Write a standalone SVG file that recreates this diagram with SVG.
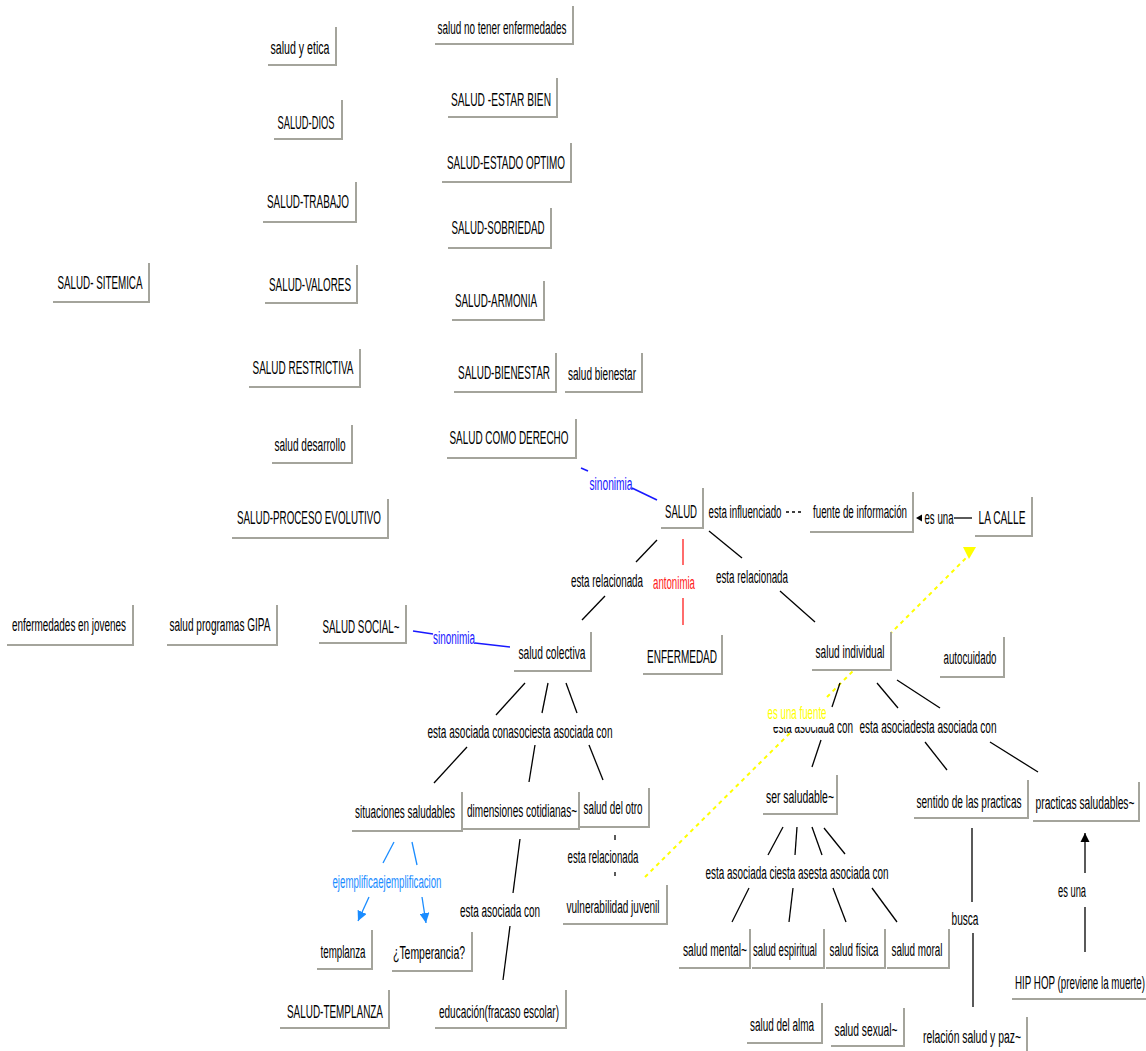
<svg xmlns="http://www.w3.org/2000/svg" width="1146" height="1051" viewBox="0 0 1146 1051">
<defs>
<style>
text{font-family:"Liberation Sans",Arial,sans-serif;font-size:18px;text-anchor:middle;fill:#000}
.node rect{fill:#fff}
.sh{fill:none;stroke:#a4a49c;stroke-width:2}
.ln{fill:none;stroke:#000;stroke-width:1.3}
.bl{fill:none;stroke:#1818ff;stroke-width:1.6}
.rd{fill:none;stroke:#ff4848;stroke-width:1.6}
.db{fill:none;stroke:#1a8cff;stroke-width:1.3}
.yl{fill:none;stroke:#ffff00;stroke-width:2;stroke-dasharray:4 4}
.tbl{fill:#1818ff}
.trd{fill:#ff2020}
.tdb{fill:#1a8cff}
.tyl{fill:#ffff00}
</style>
<marker id="mBlk" viewBox="0 0 10 10" refX="10" refY="5" markerWidth="9" markerHeight="13" markerUnits="userSpaceOnUse" orient="auto"><path d="M0,0 L10,5 L0,10 z" fill="#000"/></marker>
<marker id="mDb" viewBox="0 0 10 10" refX="10" refY="5" markerWidth="10" markerHeight="10" markerUnits="userSpaceOnUse" orient="auto"><path d="M0,0 L10,5 L0,10 z" fill="#1a8cff"/></marker>
</defs>
<rect width="1146" height="1051" fill="#fff"/>

<g id="connectors">
<path class="bl" d="M581,468 L588,471"/>
<path class="bl" d="M632,488 L657,500"/>
<path class="ln" d="M657,540 L636,562"/>
<path class="ln" d="M605,596 L582,620"/>
<path class="rd" d="M683,539 V565"/>
<path class="rd" d="M683,598 V625"/>
<path class="ln" d="M709,531 L742,558"/>
<path class="ln" d="M780,591 L815,622"/>
<path class="ln" d="M786,512 H804" stroke-dasharray="3 3"/>
<path class="ln" d="M954,518 H972" stroke-width="2"/>
<polygon points="916,518 922,514.5 922,521.5" fill="#000"/>
<path class="bl" d="M413,631 L433,634"/>
<path class="bl" d="M475,643 L510,647"/>
<path class="ln" d="M525,683 L496,715"/>
<path class="ln" d="M548,683 L542,713"/>
<path class="ln" d="M566,683 L577,713"/>
<path class="ln" d="M467,747 L434,783"/>
<path class="ln" d="M535,745 L529,782"/>
<path class="ln" d="M589,745 L603,780"/>
<path class="ln" d="M520,839 L513,893"/>
<path class="ln" d="M510,926 L503,980"/>
<path class="ln" d="M615,835 V840"/>
<path class="ln" d="M615,872 V876"/>
<path class="db" d="M394,842 L383,863"/>
<path class="db" d="M412,842 L417,865"/>
<path class="db" d="M369,897 L358,921" marker-end="url(#mDb)"/>
<path class="db" d="M422,897 L426,923" marker-end="url(#mDb)"/>
<path class="yl" d="M645,877 L790,733"/>
<path class="yl" d="M827,697 L966,558"/>
<polygon points="963,547 976,547 969,559" fill="#ffff00"/>
<path class="ln" d="M840,683 L832,707"/>
<path class="ln" d="M877,683 L898,708"/>
<path class="ln" d="M897,680 L940,708"/>
<path class="ln" d="M821,740 L812,767"/>
<path class="ln" d="M925,742 L947,770"/>
<path class="ln" d="M990,742 L1038,772"/>
<path class="ln" d="M783,827 L768,855"/>
<path class="ln" d="M797,827 L795,855"/>
<path class="ln" d="M812,827 L822,855"/>
<path class="ln" d="M824,828 L845,854"/>
<path class="ln" d="M749,888 L732,922"/>
<path class="ln" d="M793,888 L789,922"/>
<path class="ln" d="M833,888 L846,922"/>
<path class="ln" d="M872,888 L897,922"/>
<path class="ln" d="M972,828 V902"/>
<path class="ln" d="M973,933 V1007"/>
<path class="ln" d="M1085,952 V907"/>
<path class="ln" d="M1085,873 V833" marker-end="url(#mBlk)"/>
</g>

<g id="labels">
<text class="tbl" x="611" y="490" textLength="43" lengthAdjust="spacingAndGlyphs">sinonimia</text>
<text x="745" y="518" textLength="73" lengthAdjust="spacingAndGlyphs">esta influenciado</text>
<text x="939" y="524" textLength="29" lengthAdjust="spacingAndGlyphs">es una</text>
<text x="607" y="587" textLength="72" lengthAdjust="spacingAndGlyphs">esta relacionada</text>
<text class="trd" x="674" y="589" textLength="42" lengthAdjust="spacingAndGlyphs">antonimia</text>
<text x="752" y="583" textLength="72" lengthAdjust="spacingAndGlyphs">esta relacionada</text>
<text class="tbl" x="454" y="644" textLength="42" lengthAdjust="spacingAndGlyphs">sinonimia</text>
<text x="520" y="738" textLength="185" lengthAdjust="spacingAndGlyphs">esta asociada conasociesta asociada con</text>
<text x="813" y="733" textLength="80" lengthAdjust="spacingAndGlyphs">esta asociada con</text>
<rect x="766" y="702" width="63" height="25" fill="#fff"/>
<text class="tyl" x="797" y="719" textLength="59" lengthAdjust="spacingAndGlyphs">es una fuente</text>
<text x="928" y="733" textLength="137" lengthAdjust="spacingAndGlyphs">esta asociadesta asociada con</text>
<text class="tdb" x="387" y="888" textLength="109" lengthAdjust="spacingAndGlyphs">ejemplificaejemplificacion</text>
<text x="500" y="917" textLength="80" lengthAdjust="spacingAndGlyphs">esta asociada con</text>
<text x="603" y="863" textLength="71" lengthAdjust="spacingAndGlyphs">esta relacionada</text>
<text x="797" y="879" textLength="183" lengthAdjust="spacingAndGlyphs">esta asociada ciesta asesta asociada con</text>
<text x="965" y="925" textLength="27" lengthAdjust="spacingAndGlyphs">busca</text>
<text x="1072" y="897" textLength="28" lengthAdjust="spacingAndGlyphs">es una</text>
</g>

<g id="n_no_enf" class="node"><rect x="435" y="6" width="138" height="38"/><path class="sh" d="M573,6 V44 H435"/><text x="502" y="34" textLength="129" lengthAdjust="spacingAndGlyphs">salud no tener enfermedades</text></g>
<g id="n_etica" class="node"><rect x="268" y="27" width="68" height="38"/><path class="sh" d="M336,27 V65 H268"/><text x="300" y="54" textLength="59" lengthAdjust="spacingAndGlyphs">salud y etica</text></g>
<g id="n_estar" class="node"><rect x="448" y="78" width="109" height="39"/><path class="sh" d="M557,78 V117 H448"/><text x="501" y="106" textLength="100" lengthAdjust="spacingAndGlyphs">SALUD -ESTAR BIEN</text></g>
<g id="n_dios" class="node"><rect x="274" y="100" width="68" height="39"/><path class="sh" d="M342,100 V139 H274"/><text x="306" y="129" textLength="57" lengthAdjust="spacingAndGlyphs">SALUD-DIOS</text></g>
<g id="n_optimo" class="node"><rect x="442" y="143" width="129" height="39"/><path class="sh" d="M571,143 V182 H442"/><text x="506" y="169" textLength="118" lengthAdjust="spacingAndGlyphs">SALUD-ESTADO OPTIMO</text></g>
<g id="n_trabajo" class="node"><rect x="263" y="182" width="93" height="40"/><path class="sh" d="M356,182 V222 H263"/><text x="308" y="208" textLength="82" lengthAdjust="spacingAndGlyphs">SALUD-TRABAJO</text></g>
<g id="n_sobriedad" class="node"><rect x="448" y="208" width="103" height="40"/><path class="sh" d="M551,208 V248 H448"/><text x="498" y="234" textLength="93" lengthAdjust="spacingAndGlyphs">SALUD-SOBRIEDAD</text></g>
<g id="n_sitemica" class="node"><rect x="53" y="263" width="96" height="39"/><path class="sh" d="M149,263 V302 H53"/><text x="100" y="289" textLength="85" lengthAdjust="spacingAndGlyphs">SALUD- SITEMICA</text></g>
<g id="n_valores" class="node"><rect x="265" y="265" width="92" height="38"/><path class="sh" d="M357,265 V303 H265"/><text x="310" y="291" textLength="82" lengthAdjust="spacingAndGlyphs">SALUD-VALORES</text></g>
<g id="n_armonia" class="node"><rect x="452" y="281" width="92" height="39"/><path class="sh" d="M544,281 V320 H452"/><text x="496" y="307" textLength="82" lengthAdjust="spacingAndGlyphs">SALUD-ARMONIA</text></g>
<g id="n_restrictiva" class="node"><rect x="249" y="349" width="111" height="38"/><path class="sh" d="M360,349 V387 H249"/><text x="303" y="374" textLength="101" lengthAdjust="spacingAndGlyphs">SALUD RESTRICTIVA</text></g>
<g id="n_bienestar_u" class="node"><rect x="454" y="353" width="102" height="39"/><path class="sh" d="M556,353 V392 H454"/><text x="504" y="379" textLength="92" lengthAdjust="spacingAndGlyphs">SALUD-BIENESTAR</text></g>
<g id="n_bienestar" class="node"><rect x="565" y="353" width="77" height="39"/><path class="sh" d="M642,353 V392 H565"/><text x="602" y="380" textLength="68" lengthAdjust="spacingAndGlyphs">salud bienestar</text></g>
<g id="n_desarrollo" class="node"><rect x="272" y="425" width="80" height="38"/><path class="sh" d="M352,425 V463 H272"/><text x="310" y="451" textLength="71" lengthAdjust="spacingAndGlyphs">salud desarrollo</text></g>
<g id="n_derecho" class="node"><rect x="447" y="419" width="129" height="39"/><path class="sh" d="M576,419 V458 H447"/><text x="509" y="444" textLength="119" lengthAdjust="spacingAndGlyphs">SALUD COMO DERECHO</text></g>
<g id="n_proceso" class="node"><rect x="232" y="499" width="156" height="39"/><path class="sh" d="M388,499 V538 H232"/><text x="309" y="524" textLength="144" lengthAdjust="spacingAndGlyphs">SALUD-PROCESO EVOLUTIVO</text></g>
<g id="n_salud" class="node"><rect x="661" y="488" width="42" height="40"/><path class="sh" d="M703,488 V528 H661"/><text x="681" y="518" textLength="32" lengthAdjust="spacingAndGlyphs">SALUD</text></g>
<g id="n_fuente" class="node"><rect x="810" y="492" width="103" height="40"/><path class="sh" d="M913,492 V532 H810"/><text x="860" y="518" textLength="94" lengthAdjust="spacingAndGlyphs">fuente de información</text></g>
<g id="n_calle" class="node"><rect x="975" y="497" width="57" height="39"/><path class="sh" d="M1032,497 V536 H975"/><text x="1002" y="524" textLength="47" lengthAdjust="spacingAndGlyphs">LA CALLE</text></g>
<g id="n_enfermedad" class="node"><rect x="643" y="635" width="79" height="39"/><path class="sh" d="M722,635 V674 H643"/><text x="682" y="663" textLength="70" lengthAdjust="spacingAndGlyphs">ENFERMEDAD</text></g>
<g id="n_colectiva" class="node"><rect x="514" y="632" width="77" height="39"/><path class="sh" d="M591,632 V671 H514"/><text x="552" y="659" textLength="67" lengthAdjust="spacingAndGlyphs">salud colectiva</text></g>
<g id="n_individual" class="node"><rect x="812" y="632" width="79" height="38"/><path class="sh" d="M891,632 V670 H812"/><text x="850" y="658" textLength="69" lengthAdjust="spacingAndGlyphs">salud individual</text></g>
<g id="n_autocuidado" class="node"><rect x="940" y="637" width="64" height="40"/><path class="sh" d="M1004,637 V677 H940"/><text x="970" y="664" textLength="53" lengthAdjust="spacingAndGlyphs">autocuidado</text></g>
<g id="n_jovenes" class="node"><rect x="7" y="605" width="126" height="40"/><path class="sh" d="M133,605 V645 H7"/><text x="69" y="631" textLength="114" lengthAdjust="spacingAndGlyphs">enfermedades en jovenes</text></g>
<g id="n_gipa" class="node"><rect x="167" y="605" width="110" height="40"/><path class="sh" d="M277,605 V645 H167"/><text x="220" y="631" textLength="101" lengthAdjust="spacingAndGlyphs">salud programas GIPA</text></g>
<g id="n_social" class="node"><rect x="319" y="605" width="87" height="38"/><path class="sh" d="M406,605 V643 H319"/><text x="361" y="633" textLength="77" lengthAdjust="spacingAndGlyphs">SALUD SOCIAL~</text></g>
<g id="n_situaciones" class="node"><rect x="352" y="792" width="110" height="39"/><path class="sh" d="M462,792 V831 H352"/><text x="405" y="818" textLength="100" lengthAdjust="spacingAndGlyphs">situaciones saludables</text></g>
<g id="n_dimensiones" class="node"><rect x="463" y="792" width="116" height="37"/><path class="sh" d="M579,792 V829 H463"/><text x="522" y="817" textLength="110" lengthAdjust="spacingAndGlyphs">dimensiones cotidianas~</text></g>
<g id="n_otro" class="node"><rect x="580" y="788" width="69" height="39"/><path class="sh" d="M649,788 V827 H580"/><text x="613" y="814" textLength="59" lengthAdjust="spacingAndGlyphs">salud del otro</text></g>
<g id="n_templanza" class="node"><rect x="317" y="930" width="55" height="39"/><path class="sh" d="M372,930 V969 H317"/><text x="343" y="958" textLength="45" lengthAdjust="spacingAndGlyphs">templanza</text></g>
<g id="n_temperancia" class="node"><rect x="392" y="932" width="80" height="39"/><path class="sh" d="M472,932 V971 H392"/><text x="429" y="959" textLength="72" lengthAdjust="spacingAndGlyphs">¿Temperancia?</text></g>
<g id="n_templanza_u" class="node"><rect x="280" y="990" width="109" height="38"/><path class="sh" d="M389,990 V1028 H280"/><text x="335" y="1018" textLength="96" lengthAdjust="spacingAndGlyphs">SALUD-TEMPLANZA</text></g>
<g id="n_educacion" class="node"><rect x="435" y="990" width="131" height="38"/><path class="sh" d="M566,990 V1028 H435"/><text x="499" y="1018" textLength="120" lengthAdjust="spacingAndGlyphs">educación(fracaso escolar)</text></g>
<g id="n_vulnerabilidad" class="node"><rect x="563" y="885" width="104" height="39"/><path class="sh" d="M667,885 V924 H563"/><text x="613" y="913" textLength="93" lengthAdjust="spacingAndGlyphs">vulnerabilidad juvenil</text></g>
<g id="n_ser" class="node"><rect x="763" y="775" width="74" height="39"/><path class="sh" d="M837,775 V814 H763"/><text x="800" y="803" textLength="68" lengthAdjust="spacingAndGlyphs">ser saludable~</text></g>
<g id="n_sentido" class="node"><rect x="914" y="780" width="114" height="38"/><path class="sh" d="M1028,780 V818 H914"/><text x="969" y="808" textLength="105" lengthAdjust="spacingAndGlyphs">sentido de las practicas</text></g>
<g id="n_practicas" class="node"><rect x="1033" y="782" width="106" height="39"/><path class="sh" d="M1139,782 V821 H1033"/><text x="1085" y="809" textLength="99" lengthAdjust="spacingAndGlyphs">practicas saludables~</text></g>
<g id="n_mental" class="node"><rect x="679" y="929" width="71" height="39"/><path class="sh" d="M750,929 V968 H679"/><text x="715" y="956" textLength="64" lengthAdjust="spacingAndGlyphs">salud mental~</text></g>
<g id="n_espiritual" class="node"><rect x="752" y="929" width="72" height="39"/><path class="sh" d="M824,929 V968 H752"/><text x="785" y="956" textLength="64" lengthAdjust="spacingAndGlyphs">salud espiritual</text></g>
<g id="n_fisica" class="node"><rect x="826" y="929" width="59" height="39"/><path class="sh" d="M885,929 V968 H826"/><text x="854" y="956" textLength="49" lengthAdjust="spacingAndGlyphs">salud física</text></g>
<g id="n_moral" class="node"><rect x="887" y="929" width="62" height="39"/><path class="sh" d="M949,929 V968 H887"/><text x="917" y="956" textLength="51" lengthAdjust="spacingAndGlyphs">salud moral</text></g>
<g id="n_alma" class="node"><rect x="747" y="1003" width="75" height="40"/><path class="sh" d="M822,1003 V1043 H747"/><text x="782" y="1031" textLength="64" lengthAdjust="spacingAndGlyphs">salud del alma</text></g>
<g id="n_sexual" class="node"><rect x="831" y="1008" width="73" height="38"/><path class="sh" d="M904,1008 V1046 H831"/><text x="866" y="1036" textLength="63" lengthAdjust="spacingAndGlyphs">salud sexual~</text></g>
<g id="n_paz" class="node"><rect x="923" y="1017" width="104" height="44"/><path class="sh" d="M1027,1017 V1061 H923"/><text x="972" y="1043" textLength="98" lengthAdjust="spacingAndGlyphs">relación salud y paz~</text></g>
<g id="n_hiphop" class="node"><rect x="1012" y="962" width="140" height="37"/><path class="sh" d="M1152,962 V999 H1012"/><text x="1080" y="989" textLength="130" lengthAdjust="spacingAndGlyphs">HIP HOP (previene la muerte)</text></g>
</svg>
